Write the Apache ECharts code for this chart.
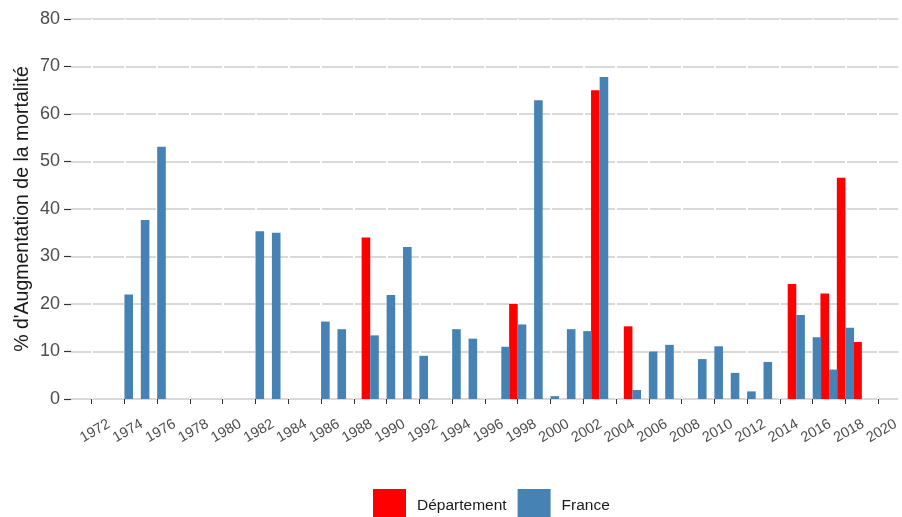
<!DOCTYPE html>
<html>
<head>
<meta charset="utf-8">
<script src="https://cdn.jsdelivr.net/npm/echarts@6/dist/echarts.min.js"></script>
<style>
html,body{margin:0;padding:0;background:#fff;}
#chart{width:902px;height:517px;}
</style>
</head>
<body>
<div id="chart"></div>
<script>
// Tick labels on the x axis (years)
const xTickYears = [1972,1974,1976,1978,1980,1982,1984,1986,1988,1990,1992,1994,1996,1998,2000,2002,2004,2006,2008,2010,2012,2014,2016,2018,2020];
const yTicks = [0,10,20,30,40,50,60,70,80];

// Département series
const depYears  = [1989, 1998, 2003, 2005, 2015, 2017, 2018, 2019];
const depValues = [34.0, 20.0, 65.0, 15.3, 24.2, 22.2, 46.6, 12.0];

// France series
const frYears  = [1974, 1975, 1976, 1982, 1983, 1986, 1987, 1989, 1990, 1991, 1992, 1994, 1995, 1997, 1998, 1999, 2000, 2001, 2002, 2003, 2005, 2006, 2007, 2009, 2010, 2011, 2012, 2013, 2015, 2016, 2017, 2018];
const frValues = [22.0, 37.7, 53.1, 35.3, 35.0, 16.3, 14.7, 13.4, 21.9, 32.0, 9.1, 14.7, 12.7, 11.0, 15.7, 62.9, 0.6, 14.7, 14.3, 67.8, 1.9, 10.0, 11.4, 8.4, 11.1, 5.5, 1.6, 7.8, 17.7, 13.0, 6.2, 15.0];

const depData = depYears.map((y, i) => [y, depValues[i]]);
const frData = frYears.map((y, i) => [y, frValues[i]]);

const chart = echarts.init(document.getElementById('chart'), null, {renderer: 'canvas'});
const FONT = '"Liberation Sans", Arial, sans-serif';

chart.setOption({
  animation: false,
  backgroundColor: '#ffffff',
  textStyle: {fontFamily: FONT},
  grid: {left: 71, right: 2, top: 19, bottom: 118, containLabel: false},
  legend: {
    left: 368, top: 484,
    itemWidth: 33, itemHeight: 33, itemGap: 11,
    icon: 'rect',
    data: ['Département', 'France'],
    textStyle: {fontSize: 15.5, color: '#1a1a1a', fontFamily: FONT, padding: [0, 0, 0, 6]}
  },
  xAxis: {
    type: 'value',
    min: 1970.74, max: 2021.22,
    offset: 17,
    z: 1,
    axisLine: {show: false},
    axisTick: {show: true, length: 5, customValues: xTickYears, lineStyle: {color: '#333333', width: 1}},
    axisLabel: {
      show: true, customValues: xTickYears, rotate: 30,
      align: 'center', verticalAlign: 'middle',
      margin: 17, fontSize: 14.5, color: '#4d4d4d', fontFamily: FONT,
      padding: [0, 0, 0, 8],
      formatter: v => String(v)
    },
    splitLine: {show: true, lineStyle: {color: '#ffffff', width: 2}}
  },
  yAxis: {
    type: 'value',
    min: 0, max: 80, interval: 10,
    z: 0,
    name: "% d'Augmentation de la mortalité",
    nameLocation: 'middle', nameRotate: 90, nameGap: 38,
    nameMoveOverlap: false,
    nameTextStyle: {fontSize: 19.5, color: '#1a1a1a', fontFamily: FONT},
    axisLine: {show: false},
    axisTick: {show: true, length: 7, lineStyle: {color: '#333333', width: 1.2}},
    axisLabel: {margin: 11, fontSize: 18, color: '#4d4d4d', fontFamily: FONT},
    splitLine: {show: true, lineStyle: {color: '#cccccc', width: 1.5}}
  },
  series: [
    {
      name: 'Département', type: 'bar', data: depData,
      barWidth: 8.6, barGap: '0%',
      itemStyle: {color: '#ff0000'}, z: 2
    },
    {
      name: 'France', type: 'bar', data: frData,
      barWidth: 8.6, barGap: '0%',
      itemStyle: {color: '#4682b4'}, z: 2
    }
  ]
});
</script>
</body>
</html>
